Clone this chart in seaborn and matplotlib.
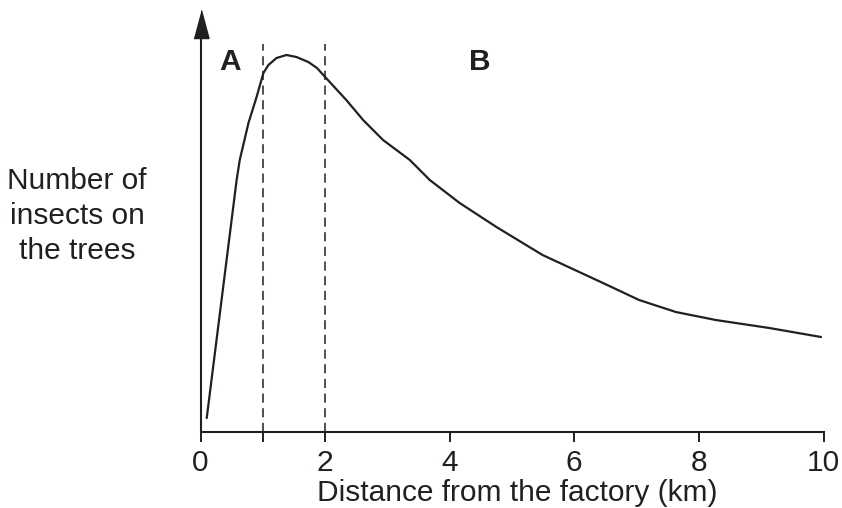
import matplotlib
matplotlib.use("Agg")
import matplotlib.pyplot as plt
import seaborn as sns

# curve (x in km, y in arbitrary units)
distance = [0.10, 0.58, 0.63, 0.77, 0.90, 1.01, 1.09, 1.22, 1.38, 1.54, 1.73, 1.87, 2.00,
            2.34, 2.61, 2.93, 3.36, 3.68, 4.16, 4.75, 5.49, 6.46, 7.04, 7.63, 8.27, 9.13, 9.96]
insects = [14, 252, 272, 309, 335, 359, 367, 374, 377, 375, 370, 364, 355,
           332, 312, 292, 272, 252, 229, 205, 177, 149, 132, 120, 112, 104, 95]
zone_edges = [1, 2]
zone_labels = ["A", "B"]
zone_label_x = [0.47, 4.48]
x_ticks = [0, 1, 2, 4, 6, 8, 10]
x_ticklabels = ["0", "", "2", "4", "6", "8", "10"]

sns.set_style("white")
plt.rcParams['font.family'] = ['Liberation Sans', 'DejaVu Sans']
ink = '#231f20'
fs = 21.5

fig = plt.figure(figsize=(8.42, 5.08), dpi=100)
ax = fig.add_axes([200.5 / 842, 76 / 508, 623 / 842, 394 / 508])

sns.lineplot(x=distance, y=insects, color=ink, linewidth=1.6, ax=ax)

for edge in zone_edges:
    ax.axvline(edge, ymin=0, ymax=0.985, color=ink, linewidth=1.1, dashes=(6, 3.6))

for lab, xx in zip(zone_labels, zone_label_x):
    ax.text(xx, 370, lab, fontsize=fs, fontweight='bold', color=ink, ha='center', va='center')

ax.set_xlim(0, 10)
ax.set_ylim(0, 394)
ax.set_xticks(x_ticks)
ax.set_xticklabels(x_ticklabels, fontsize=fs, color=ink)
ax.set_yticks([])
ax.tick_params(axis='x', direction='out', length=7.5, width=1.4, color=ink, pad=4.5, bottom=True)

for side in ['top', 'right']:
    ax.spines[side].set_visible(False)
for side in ['left', 'bottom']:
    ax.spines[side].set_color(ink)
    ax.spines[side].set_linewidth(1.5)

# arrow head on top of the y axis
ax.plot(0, 408, marker=[(-7.5, -14), (7.5, -14), (0, 14)], markersize=20.2,
        color=ink, clip_on=False)

ax.set_xlabel("Distance from the factory (km)", fontsize=fs, color=ink, ha='left')
ax.xaxis.set_label_coords((317 - 200.5) / 623, -47 / 394)
ax.set_ylabel("Number of\ninsects on\nthe trees", fontsize=fs, color=ink, rotation=0,
              ha='center', va='center', multialignment='center', linespacing=1.3)
ax.yaxis.set_label_coords((77 - 200.5) / 623, (432 - 216) / 394)

plt.savefig('out.png', dpi=100)
